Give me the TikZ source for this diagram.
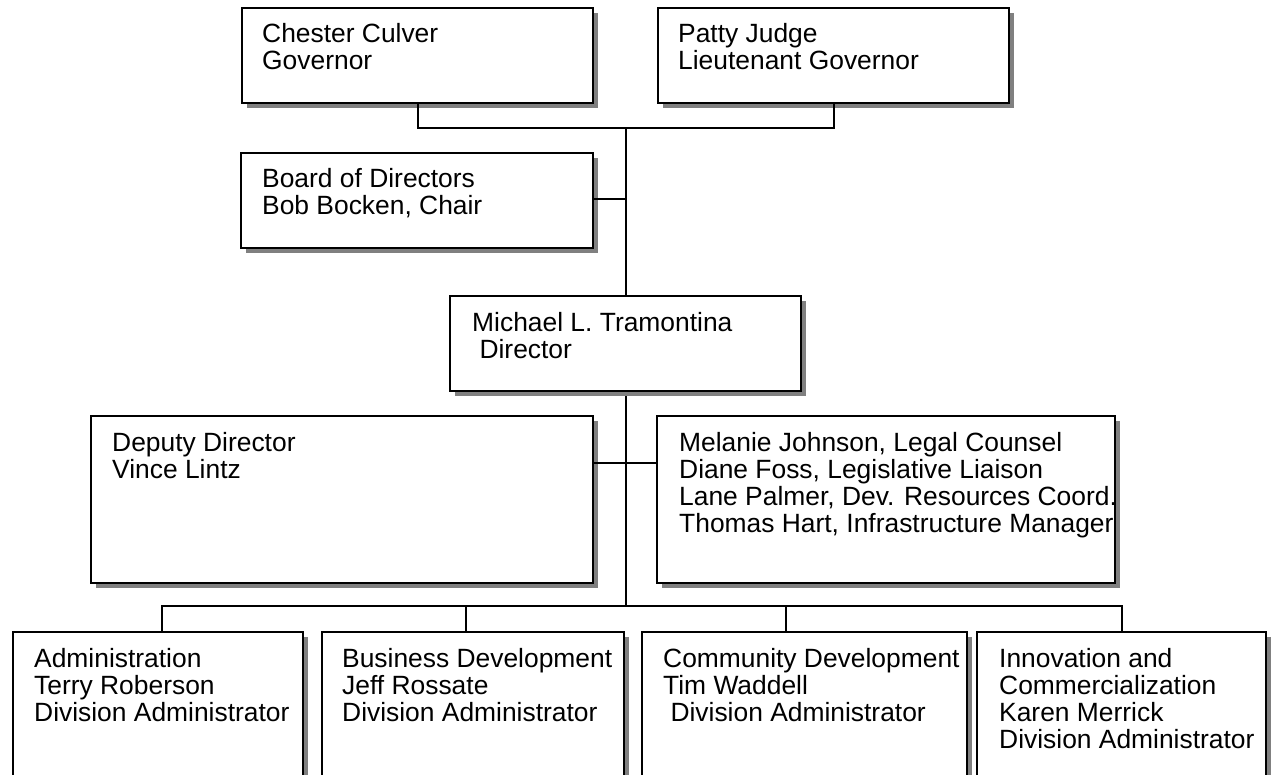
\documentclass[tikz,border=0pt]{standalone}
\usepackage{fontspec}
\setmainfont{Liberation Sans}
\usetikzlibrary{shadows,calc}
\tikzset{
  box/.style={draw=black, line width=2pt, fill=white, rectangle, inner sep=0pt, outer sep=0pt, anchor=north west,
    drop shadow={shadow xshift=5pt, shadow yshift=-5pt, fill=black!50, opacity=1}},
  txt/.style={anchor=base west, inner sep=0pt, align=left, font=\fontsize{26.4pt}{27pt}\selectfont},
  conn/.style={draw=black, line width=2pt}
}
\newcommand{\mybox}[5]{\node[box, minimum width=#4pt-#2pt, minimum height=#5pt-#3pt] (#1) at (#2,#3) {};}
\begin{document}
\begin{tikzpicture}[x=1pt,y=-1pt]
\useasboundingbox (0,0) rectangle (1277,775);
\clip (0,0) rectangle (1277,775);
% junction coordinates
\coordinate (j1) at (626,128);
\coordinate (j2) at (626,606);
\coordinate (dm) at (626,463);
\coordinate (d1) at (162,632);
\coordinate (d2) at (466,632);
\coordinate (d3) at (786,632);
\coordinate (d4) at (1122,632);
% connectors
\draw[conn] (j1) -- (j2);
\draw[conn] (d1) |- (d4 |- j2) -- (d4);
\draw[conn] (d2) -- (d2 |- j2);
\draw[conn] (d3) -- (d3 |- j2);
% boxes
\mybox{chester}{242}{8}{593}{103}
\mybox{patty}{658}{8}{1009}{103}
\mybox{board}{241}{153}{593}{248}
\mybox{michael}{450}{296}{801}{391}
\mybox{deputy}{91}{416}{593}{583}
\mybox{melanie}{657}{416}{1115}{583}
\mybox{adm}{13}{632}{303}{800}
\mybox{bus}{322}{632}{624}{800}
\mybox{com}{642}{632}{967}{800}
\mybox{inn}{977}{632}{1266}{800}
% connectors between boxes
\draw[conn] (chester.south) |- (j1) -| (patty.south);
\draw[conn] (board.east |- 0,199) -- (j1 |- 0,199);
\draw[conn] (dm -| deputy.east) -- (dm -| melanie.west);
% texts (anchor = baseline of last line)
\node[txt] (chesterT) at (262,70) {Chester Culver\\Governor};
\node[txt] (pattyT) at (678,70) {Patty Judge\\Lieutenant Governor};
\node[txt] (boardT) at (262,215) {Board of Directors\\Bob Bocken, Chair};
\node[txt] (michaelT) at (472,359) {Michael L. Tramontina\\~Director};
\node[txt] (deputyT) at (112,478) {Deputy Director\\Vince Lintz};
\node[txt] (melanieT) at (679,532) {Melanie Johnson, Legal Counsel\\Diane Foss, Legislative Liaison\\Lane Palmer, Dev. Resources Coord.\\Thomas Hart, Infrastructure Manager};
\node[txt] (admT) at (34,721) {Administration\\Terry Roberson\\Division Administrator};
\node[txt] (busT) at (342,721) {Business Development\\Jeff Rossate\\Division Administrator};
\node[txt] (comT) at (663,721) {Community Development\\Tim Waddell\\~Division Administrator};
\node[txt] (innT) at (999,748) {Innovation and\\Commercialization\\Karen Merrick\\Division Administrator};
\end{tikzpicture}
\end{document}
